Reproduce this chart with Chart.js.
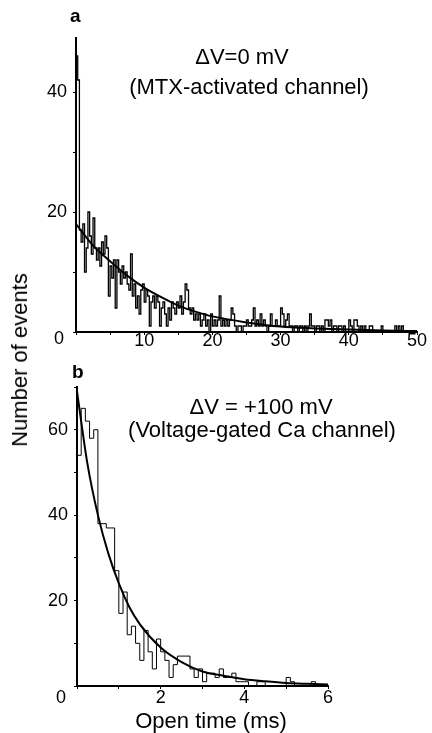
<!DOCTYPE html>
<html>
<head>
<meta charset="utf-8">
<script src="https://cdn.jsdelivr.net/npm/chart.js@4.4.0/dist/chart.umd.min.js"></script>
<style>
  body { margin: 0; background: #fff; }
  #wrap { position: relative; width: 432px; height: 733px; font-family: 'Liberation Sans', Arial, sans-serif; color: #000; }
  canvas { position: absolute; left: 0; }
  .txt { position: absolute; line-height: 1; white-space: nowrap; }
  .mid { transform: translateX(-50%); }
</style>
</head>
<body>
<div id="wrap">
  <canvas id="chartA" width="432" height="360" style="top:0"></canvas>
  <canvas id="chartB" width="432" height="373" style="top:360px"></canvas>

  <div class="txt" style="left:70px;top:6px;font-size:19px;font-weight:bold">a</div>
  <div class="txt mid" style="left:242px;top:46px;font-size:22px">&Delta;V=0 mV</div>
  <div class="txt mid" style="left:249px;top:76px;font-size:22px">(MTX-activated channel)</div>
  <div class="txt mid" style="left:59px;top:329px;font-size:18px">0</div>

  <div class="txt" style="left:72px;top:362px;font-size:19px;font-weight:bold">b</div>
  <div class="txt mid" style="left:261px;top:396px;font-size:22px">&Delta;V = +100 mV</div>
  <div class="txt mid" style="left:262px;top:419px;font-size:22px">(Voltage-gated Ca channel)</div>
  <div class="txt mid" style="left:61px;top:688px;font-size:18px">0</div>

  <div class="txt" style="left:20px;top:360px;font-size:22px;transform:translate(-50%,-50%) rotate(-90deg)">Number of events</div>
  <div class="txt mid" style="left:211px;top:710px;font-size:22px">Open time (ms)</div>
</div>

<script>
const FONT = "'Liberation Sans', Arial, sans-serif";

// panel a: MTX-activated channel, 0.25 ms bins (rows of 5 ms)
const binA = 0.25;
const countsA = [
  48, 46, 42, 17, 15, 18, 10, 14, 20, 16, 13, 19, 14, 12, 14, 11, 15, 13, 16, 14,
  6, 11, 9, 12, 4, 12, 10, 8, 11, 9, 10, 8, 7, 13, 6, 8, 4, 6, 3, 7,
  8, 5, 7, 6, 1, 5, 6, 4, 6, 5, 1, 4, 5, 3, 1, 4, 2, 5, 4, 3,
  5, 4, 6, 3, 5, 8, 7, 4, 3, 4, 2, 3, 2, 3, 1, 2, 3, 1, 2, 0,
  3, 1, 2, 1, 2, 6, 1, 2, 1, 2, 1, 2, 4, 3, 1, 0, 1, 1, 0, 1,
  1, 2, 1, 1, 2, 4, 1, 2, 1, 3, 1, 2, 1, 0, 1, 3, 1, 1, 2, 1,
  1, 4, 3, 1, 2, 3, 1, 1, 0, 1, 1, 0, 1, 1, 0, 1, 0, 1, 3, 1,
  1, 0, 1, 1, 0, 1, 0, 2, 2, 1, 2, 0, 1, 1, 0, 1, 1, 0, 1, 0,
  0, 2, 1, 0, 2, 2, 1, 0, 1, 0, 1, 0, 0, 1, 1, 0, 0, 0, 0, 0,
  1, 0, 0, 0, 0, 0, 0, 0, 1, 0, 1, 0, 1, 0, 0, 0, 0, 0, 0, 0
];
const fitTimeA = [0, 2.5, 5, 7.5, 10, 12.5, 15, 17.5, 20, 25, 30, 35, 40, 45, 50];
const fitCountA = [18, 14.4, 11.8, 9.4, 7.4, 5.8, 4.4, 3.4, 2.6, 1.6, 0.9, 0.6, 0.4, 0.25, 0.15];
const xLabelsA = [10, 20, 30, 40, 50];
const yLabelsA = [20, 40];

// panel b: voltage-gated Ca channel, 0.1 ms bins
const binB = 0.1;
const countsB = [
  25, 54, 65, 62, 58, 60, 38, 38, 37, 37,
  27, 17, 22, 12, 14, 10, 6, 13, 8, 4,
  11, 8, 6, 2, 5, 7, 7, 7, 4, 2,
  4, 1, 3, 3, 2, 4, 2, 2, 3, 1,
  1, 1, 0, 0, 1, 1, 0, 0, 0, 0,
  0, 2, 1, 0, 0, 0, 0, 1, 0, 0
];
const fitTimeB = [0, 0.25, 0.5, 0.75, 1, 1.25, 1.5, 2, 2.5, 3, 3.5, 4, 4.5, 5, 5.5, 6];
const fitCountB = [69, 52, 40, 31, 24, 18.5, 14.5, 9, 5.6, 3.4, 2.4, 1.6, 1.1, 0.7, 0.5, 0.35];
const xLabelsB = [2, 4, 6];
const yLabelsB = [20, 40, 60];

function histPoints(counts, w) {
  const pts = [{ x: 0, y: 0 }];
  counts.forEach((c, i) => pts.push({ x: i * w, y: c }));
  pts.push({ x: counts.length * w, y: 0 });
  return pts;
}

function fitPoints(t, c) {
  return t.map((v, i) => ({ x: v, y: c[i] }));
}

function makeChart(id, p) {
  const ctx = document.getElementById(id).getContext('2d');
  return new Chart(ctx, {
    type: 'line',
    data: {
      datasets: [{
        data: fitPoints(p.fitT, p.fitC),
        borderColor: '#000',
        borderWidth: 2,
        pointRadius: 0,
        cubicInterpolationMode: 'monotone'
      }, {
        data: histPoints(p.counts, p.bin),
        borderColor: '#000',
        borderWidth: p.histWidth,
        pointRadius: 0,
        stepped: 'after'
      }]
    },
    options: {
      responsive: false,
      animation: false,
      events: [],
      layout: { padding: { top: p.padTop, right: p.padRight, left: 0, bottom: 0 } },
      plugins: { legend: { display: false }, tooltip: { enabled: false } },
      scales: {
        x: {
          type: 'linear', min: 0, max: p.xMax,
          border: { color: '#000', width: 2 },
          grid: { drawOnChartArea: false, tickLength: 3, color: '#000' },
          ticks: {
            stepSize: p.xStep, autoSkip: false, maxRotation: 0, padding: p.xPad,
            color: '#000', font: { family: FONT, size: 18 },
            callback: v => p.xLabels.includes(v) ? String(v) : ''
          },
          afterFit: s => { s.height = p.xHeight; }
        },
        y: {
          type: 'linear', min: 0, max: p.yMax,
          border: { color: '#000', width: 2 },
          grid: { drawOnChartArea: false, tickLength: 3, color: '#000' },
          ticks: {
            stepSize: 10, autoSkip: false, padding: 6,
            color: '#000', font: { family: FONT, size: 18 },
            callback: v => p.yLabels.includes(v) ? String(v) : ''
          },
          afterBuildTicks: s => { s.ticks = s.ticks.filter(t => t.value % 10 === 0); },
          afterFit: s => { s.width = p.yWidth; }
        }
      }
    }
  });
}

var chartA = makeChart('chartA', {
  counts: countsA, bin: binA, fitT: fitTimeA, fitC: fitCountA, histWidth: 1.3,
  xMax: 50, xStep: 5, xLabels: xLabelsA, xPad: -5, yMax: 49, yLabels: yLabelsA,
  padTop: 38, padRight: 15, yWidth: 76, xHeight: 28
});

var chartB = makeChart('chartB', {
  counts: countsB, bin: binB, fitT: fitTimeB, fitC: fitCountB, histWidth: 1,
  xMax: 6, xStep: 1, xLabels: xLabelsB, xPad: -2, yMax: 70, yLabels: yLabelsB,
  padTop: 27, padRight: 104, yWidth: 77, xHeight: 47
});
</script>
</body>
</html>
